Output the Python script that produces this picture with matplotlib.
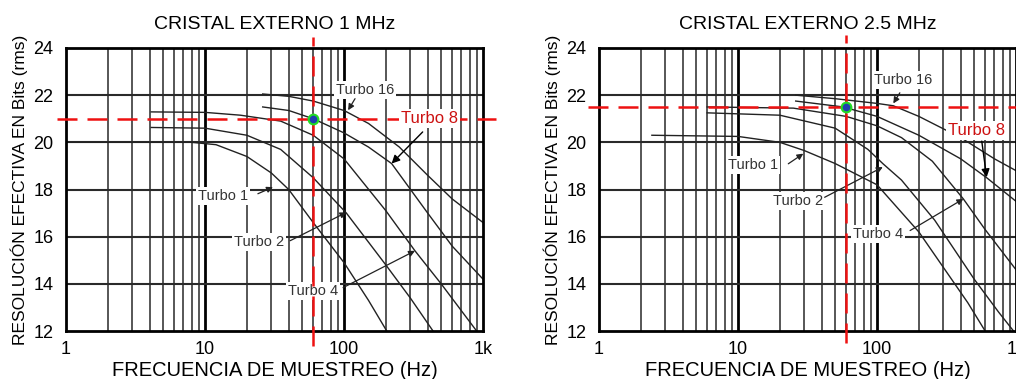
import matplotlib
matplotlib.use('Agg')
import matplotlib.pyplot as plt
import numpy as np

plt.rcParams['font.family'] = ['Liberation Sans', 'DejaVu Sans']

# ---- data ----
titles = ['CRISTAL EXTERNO 1 MHz', 'CRISTAL EXTERNO 2.5 MHz']
x_ticks = [1, 10, 100, 1000]
x_tick_labels = ['1', '10', '100', '1k']
y_ticks = [12, 14, 16, 18, 20, 22, 24]

# 1 MHz curves (freq Hz, effective bits)
t1_1m_f = [1, 8, 12, 20, 30, 40, 60, 100, 150, 203]
t1_1m_v = [20.0, 20.0, 19.9, 19.4, 18.7, 18.0, 16.6, 14.9, 13.3, 12.0]
t2_1m_f = [4.1, 10, 20, 35, 60, 104, 200, 300, 437]
t2_1m_v = [20.63, 20.6, 20.3, 19.7, 18.5, 17.0, 14.8, 13.4, 12.0]
t4_1m_f = [4.1, 10, 18, 35, 60, 100, 200, 324, 500, 900]
t4_1m_v = [21.29, 21.27, 21.15, 20.9, 20.3, 19.3, 17.1, 15.4, 14.0, 12.0]
t8_1m_f = [26, 40, 60, 100, 150, 220, 400, 600, 1000]
t8_1m_v = [21.5, 21.35, 21.0, 20.4, 19.8, 19.1, 17.0, 15.6, 14.2]
t16_1m_f = [26, 40, 60, 100, 150, 250, 400, 600, 1000]
t16_1m_v = [22.05, 21.95, 21.75, 21.35, 20.8, 19.8, 18.6, 17.6, 16.6]

# 2.5 MHz curves
t1_25m_f = [2.4, 10, 20, 30, 50, 100, 200, 300, 450, 600]
t1_25m_v = [20.3, 20.25, 20.0, 19.65, 19.1, 18.2, 16.2, 14.7, 13.2, 12.0]
t2_25m_f = [6, 20, 50, 86, 110, 150, 260, 500, 750, 960]
t2_25m_v = [21.25, 21.15, 20.6, 19.7, 19.1, 18.4, 16.7, 14.2, 12.8, 12.0]
t4_25m_f = [6, 25, 60, 100, 150, 250, 418, 600, 1000]
t4_25m_v = [21.5, 21.45, 21.1, 20.7, 20.2, 19.2, 17.6, 16.3, 14.6]
t8_25m_f = [26, 57, 100, 200, 400, 615, 1000]
t8_25m_v = [21.75, 21.5, 21.1, 20.3, 19.3, 18.5, 17.5]
t16_25m_f = [26, 50, 100, 131, 200, 400, 700, 1000]
t16_25m_v = [22.0, 21.85, 21.65, 21.55, 21.1, 20.2, 19.3, 18.8]

# operating point marked in red
mark_freq = [60, 60]
mark_bits = [21.0, 21.5]

# labels: (text, text_x, text_y, arrow_x, arrow_y, tail_x, tail_y)
labels_1m = [
    ('Turbo 16', 142, 22.2, 107, 21.36, 120, 21.85),
    ('Turbo 1', 13.5, 17.74, 30.8, 18.1, 24.0, 17.82),
    ('Turbo 2', 24.5, 15.76, 104, 17.03, 41, 15.83),
    ('Turbo 4', 60, 13.7, 324, 15.4, 98.5, 13.84),
]
labels_25m = [
    ('Turbo 16', 155, 22.64, 131, 21.65, 146, 22.1),
    ('Turbo 1', 12.9, 19.02, 29.5, 19.52, 23.0, 19.09),
    ('Turbo 2', 27, 17.53, 110, 18.95, 42, 17.67),
    ('Turbo 4', 102, 16.1, 418, 17.6, 173, 16.26),
]
red_label = [(415, 21.0, 220, 19.1, 368, 20.44),
             (521, 20.51, 615, 18.52, 567, 20.05)]

curves = [
    [(t1_1m_f, t1_1m_v), (t2_1m_f, t2_1m_v), (t4_1m_f, t4_1m_v),
     (t8_1m_f, t8_1m_v), (t16_1m_f, t16_1m_v)],
    [(t1_25m_f, t1_25m_v), (t2_25m_f, t2_25m_v), (t4_25m_f, t4_25m_v),
     (t8_25m_f, t8_25m_v), (t16_25m_f, t16_25m_v)],
]
all_labels = [labels_1m, labels_25m]

fig = plt.figure(figsize=(10.16, 3.79), dpi=100)
ax_pos = [[0.065, 0.1266, 0.4104, 0.7468],
          [0.5896, 0.1266, 0.4104, 0.7468]]
# red guide extents (axes fraction)
hx = [(-0.022, 1.03), (-0.026, 1.06)]
vy = [(-0.053, 1.039), (-0.042, 1.046)]

for i in range(2):
    ax = fig.add_axes(ax_pos[i])
    ax.set_xscale('log')
    ax.set_xlim(1, 1000)
    ax.set_ylim(12, 24)

    # log paper grid
    for dec in [1, 10, 100]:
        for m in range(2, 10):
            ax.axvline(dec * m, color='#3a3a3a', lw=1.2, zorder=1)
    for d in [10, 100]:
        ax.axvline(d, color='black', lw=2.0, zorder=1)
    for yv in y_ticks[1:-1]:
        ax.axhline(yv, color='#2a2a2a', lw=1.5, zorder=1)

    for f, v in curves[i]:
        ax.plot(f, v, color='#222222', lw=1.0, zorder=2)

    for txt, tx, ty, axx, ayy, sx, sy in all_labels[i]:
        ax.annotate('', xy=(axx, ayy), xytext=(sx, sy),
                    arrowprops=dict(arrowstyle='-|>', color='#222222', lw=0.9,
                                    mutation_scale=9, shrinkA=0, shrinkB=0),
                    zorder=4)
        ax.text(tx, ty, txt, fontsize=10.5, color='#333333', ha='center', va='center',
                bbox=dict(facecolor='white', edgecolor='none', pad=1.5), zorder=3)

    # red guide lines
    ax.axhline(mark_bits[i], xmin=hx[i][0], xmax=hx[i][1], color='#ee1111', lw=1.8,
               linestyle=(0, (8, 4)), clip_on=False, zorder=5)
    ax.axvline(mark_freq[i], ymin=vy[i][0], ymax=vy[i][1], color='#ee1111', lw=1.8,
               linestyle=(0, (8, 4)), clip_on=False, zorder=5)

    rx, ry, ax2x, ax2y, rsx, rsy = red_label[i]
    ax.annotate('', xy=(ax2x, ax2y), xytext=(rsx, rsy),
                arrowprops=dict(arrowstyle='-|>', color='black', lw=1.0,
                                mutation_scale=12, shrinkA=0, shrinkB=0),
                zorder=6)
    ax.text(rx, ry, 'Turbo 8', fontsize=12, color='#cc1111', ha='center', va='center',
            bbox=dict(facecolor='white', edgecolor='none', pad=1.5), zorder=6)

    ax.plot(mark_freq[i], mark_bits[i], 'o', markersize=7, markerfacecolor='#1f3fb0',
            markeredgecolor='#22dd22', markeredgewidth=1.5, zorder=7, clip_on=False)

    for s in ax.spines.values():
        s.set_linewidth(2.0)
        s.set_color('black')
    ax.set_xticks(x_ticks)
    ax.set_xticklabels(x_tick_labels)
    ax.xaxis.set_minor_locator(matplotlib.ticker.NullLocator())
    ax.set_yticks(y_ticks)
    ax.tick_params(length=0, labelsize=13, pad=7)
    ax.tick_params(axis='y', pad=9)
    ax.set_title(titles[i], fontsize=14, pad=14)
    ax.set_xlabel('FRECUENCIA DE MUESTREO (Hz)', fontsize=14.5, labelpad=2)
    ax.set_ylabel('RESOLUCIÓN EFECTIVA EN Bits (rms)', fontsize=12.5, labelpad=4)

plt.savefig('out.png', dpi=100, facecolor='white')
